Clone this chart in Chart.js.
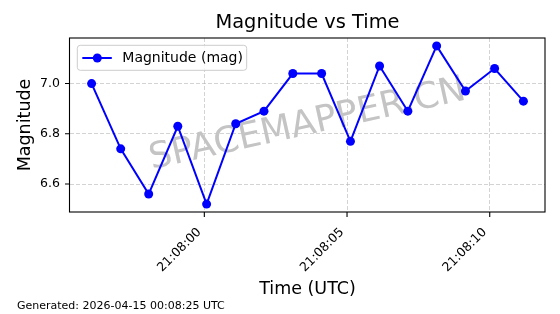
<!DOCTYPE html>
<html>
<head>
<meta charset="utf-8">
<script src="https://cdn.jsdelivr.net/npm/chart.js@4.4.0/dist/chart.umd.min.js"></script>
<style>
    body { margin: 0; background: #fff; }
</style>
</head>
<body>
<canvas id="grafico" width="560" height="314"></canvas>
<script>
// dados
const times = ['21:07:56.05', '21:07:57.07', '21:07:58.05', '21:07:59.07', '21:08:00.08', '21:08:01.10',
    '21:08:02.09', '21:08:03.10', '21:08:04.11', '21:08:05.12', '21:08:06.14', '21:08:07.13',
    '21:08:08.14', '21:08:09.15', '21:08:10.17', '21:08:11.18']
const magnitudes = [7.00, 6.74, 6.56, 6.83, 6.52, 6.84, 6.89, 7.04, 7.04, 6.77, 7.07, 6.89, 7.15, 6.97, 7.06, 6.93]
const xTickLabels = ['21:08:00', '21:08:05', '21:08:10']
const yTickValues = [6.6, 6.8, 7.0]
const seriesLabel = 'Magnitude (mag)'
const chartTitle = 'Magnitude vs Time'
const footerText = 'Generated: 2026-04-15 00:08:25 UTC'
const watermarkText = 'SPACEMAPPER.CN'

Chart.defaults.font.family = "'DejaVu Sans', sans-serif"
Chart.defaults.color = '#000'

function toSeconds(t) {
    let p = t.split(':')
    return Number(p[0]) * 3600 + Number(p[1]) * 60 + Number(p[2])
}

let xs = times.map(toSeconds)
let points = xs.map((x, i) => ({ x: x, y: magnitudes[i] }))

// margem de 5% como no matplotlib
function withMargin(values) {
    let lo = Math.min(...values)
    let hi = Math.max(...values)
    let pad = (hi - lo) * 0.05
    return [lo - pad, hi + pad]
}
let [xMin, xMax] = withMargin(xs)
let [yMin, yMax] = withMargin(magnitudes)

const decor = {
    id: 'decor',
    beforeDatasetsDraw(chart) {
        const { ctx, chartArea } = chart
        ctx.save()
        ctx.translate((chartArea.left + chartArea.right) / 2, (chartArea.top + chartArea.bottom) / 2)
        ctx.rotate(-12.5 * Math.PI / 180)
        ctx.font = "36px 'DejaVu Sans'"
        ctx.fillStyle = '#c4c4c4'
        ctx.textAlign = 'center'
        ctx.textBaseline = 'middle'
        ctx.fillText(watermarkText, 0, 0)
        ctx.restore()
    },
    afterDatasetsDraw(chart) {
        const { ctx, chartArea } = chart
        const { left, right, top, bottom } = chartArea
        const x = chart.scales.x
        const y = chart.scales.y
        ctx.save()

        // titulo centrado na area do grafico
        ctx.fillStyle = '#000'
        ctx.font = "19.4px 'DejaVu Sans'"
        ctx.textAlign = 'center'
        ctx.textBaseline = 'middle'
        ctx.fillText(chartTitle, (left + right) / 2, 22.5)
        ctx.textAlign = 'left'

        // moldura e marcas dos ticks
        ctx.strokeStyle = '#000'
        ctx.lineWidth = 1.1
        ctx.strokeRect(left - 0.5, top, right - left + 0.5, bottom - top)
        ctx.beginPath()
        x.ticks.forEach(t => {
            let px = x.getPixelForValue(t.value)
            ctx.moveTo(px, bottom)
            ctx.lineTo(px, bottom + 5)
        })
        y.ticks.forEach(t => {
            let py = y.getPixelForValue(t.value)
            ctx.moveTo(left - 5, py)
            ctx.lineTo(left, py)
        })
        ctx.stroke()

        // legenda
        let lx = left + 7.3
        let ly = top + 7.3
        ctx.beginPath()
        ctx.roundRect(lx, ly, 169.4, 25, 3)
        ctx.fillStyle = 'rgba(255,255,255,0.8)'
        ctx.fill()
        ctx.strokeStyle = '#cccccc'
        ctx.lineWidth = 1
        ctx.stroke()
        let my = ly + 12.7
        ctx.strokeStyle = '#0000ff'
        ctx.lineWidth = 2
        ctx.beginPath()
        ctx.moveTo(lx + 5, my)
        ctx.lineTo(lx + 34.5, my)
        ctx.stroke()
        ctx.fillStyle = '#0000ff'
        ctx.beginPath()
        ctx.arc(lx + 20, my, 4.5, 0, Math.PI * 2)
        ctx.fill()
        ctx.fillStyle = '#000'
        ctx.font = "14px 'DejaVu Sans'"
        ctx.textBaseline = 'middle'
        ctx.fillText(chart.data.datasets[0].label, lx + 45, my)

        // rodape
        ctx.font = "11px 'DejaVu Sans'"
        ctx.textBaseline = 'alphabetic'
        ctx.fillText(footerText, 17, 309)
        ctx.restore()
    }
}

let newChart = new Chart(document.getElementById('grafico'), {
    type: 'line',
    data: {
        datasets: [{
            label: seriesLabel,
            data: points,
            borderColor: '#0000ff',
            backgroundColor: '#0000ff',
            borderWidth: 2,
            pointRadius: 4.5,
            pointBorderWidth: 0,
            pointBackgroundColor: '#0000ff',
            tension: 0
        }]
    },
    options: {
        responsive: false,
        animation: false,
        devicePixelRatio: 1,
        layout: { padding: { top: 38, right: 15, bottom: 0, left: 0 } },
        plugins: {
            legend: { display: false },
            tooltip: { enabled: false },
            title: { display: false }
        },
        scales: {
            x: {
                type: 'linear',
                min: xMin,
                max: xMax,
                afterBuildTicks: scale => {
                    scale.ticks = xTickLabels.map(l => ({ value: toSeconds(l) }))
                },
                afterFit: scale => { scale.height = 102 },
                ticks: {
                    minRotation: 45,
                    maxRotation: 45,
                    padding: 13,
                    labelOffset: -5,
                    font: { size: 12.5 },
                    color: '#000',
                    callback: (v, i) => xTickLabels[i]
                },
                grid: { color: 'rgba(176,176,176,0.7)', lineWidth: 0.8, drawTicks: false },
                border: { display: false, dash: [4, 2] },
                title: {
                    display: true,
                    text: 'Time (UTC)',
                    font: { size: 17.5 },
                    color: '#000',
                    padding: { top: 0, bottom: 14 }
                }
            },
            y: {
                min: yMin,
                max: yMax,
                afterBuildTicks: scale => {
                    scale.ticks = yTickValues.map(v => ({ value: v }))
                },
                afterFit: scale => { scale.width = 70 },
                ticks: {
                    padding: 10,
                    font: { size: 12.5 },
                    color: '#000',
                    callback: v => v.toFixed(1)
                },
                grid: { color: 'rgba(176,176,176,0.7)', lineWidth: 0.8, drawTicks: false },
                border: { display: false, dash: [4, 2] },
                title: {
                    display: true,
                    text: 'Magnitude',
                    font: { size: 17.5 },
                    color: '#000',
                    padding: { top: 14.5, bottom: 0 }
                }
            }
        }
    },
    plugins: [decor]
})
</script>
</body>
</html>
